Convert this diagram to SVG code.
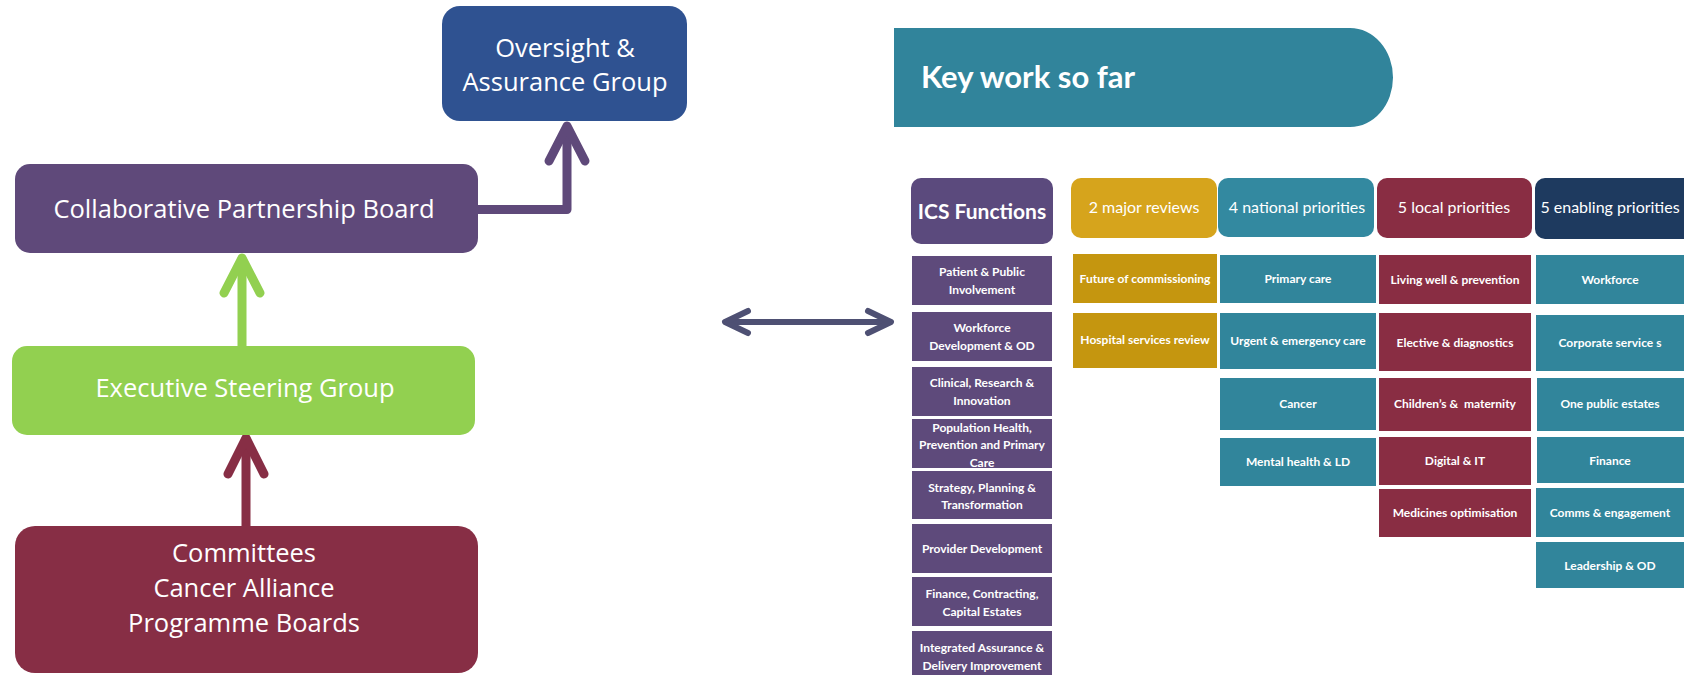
<svg xmlns="http://www.w3.org/2000/svg" width="1684" height="675" viewBox="0 0 1684 675">
<defs>
<style>
.lt{font-family:'Open Sans','Lato',sans-serif;font-size:25.5px;fill:#ffffff;text-anchor:middle}
.hd{font-family:'Lato','Open Sans',sans-serif;font-size:16px;fill:#ffffff;text-anchor:middle}
.it{font-family:'Lato','Open Sans',sans-serif;font-size:12px;font-weight:bold;fill:#ffffff;text-anchor:middle}
.pur{fill:#5e4a7b}
.gold{fill:#c5960f}
.teal{fill:#31859b}
.mar{fill:#892d43}
.arr{fill:none;stroke-width:9;stroke-linecap:round;stroke-linejoin:round}
</style>
</defs>
<rect width="1684" height="675" fill="#ffffff"/>

<g id="connectors">
  <path class="arr" stroke="#5f497a" d="M478,209.5 H567 V128"/>
  <path class="arr" stroke="#5f497a" d="M549,161 L567,126 L585,161"/>
  <path class="arr" stroke="#92d050" d="M242,346 V259"/>
  <path class="arr" stroke="#92d050" d="M224,293 L242,258 L260,293"/>
  <path class="arr" stroke="#872e45" d="M246,526 V439"/>
  <path class="arr" stroke="#872e45" d="M228,474 L246,438 L264,474"/>
  <g stroke="#4e5073" stroke-width="6" stroke-linecap="round" stroke-linejoin="round" fill="none">
    <path d="M726,322 H890"/>
    <path d="M748,311 L725,322 L748,333"/>
    <path d="M868,311 L891,322 L868,333"/>
  </g>
</g>

<g id="oversight">
  <rect x="442" y="6" width="245" height="115" rx="18" fill="#2f5291"/>
  <text class="lt" x="565" y="57">Oversight &amp;</text>
  <text class="lt" x="565" y="91">Assurance Group</text>
</g>
<g id="cpb">
  <rect x="15" y="164" width="463" height="89" rx="15" fill="#5f497a"/>
  <text class="lt" x="244" y="218">Collaborative Partnership Board</text>
</g>
<g id="esg">
  <rect x="12" y="346" width="463" height="89" rx="15" fill="#92d050"/>
  <text class="lt" x="245" y="397">Executive Steering Group</text>
</g>
<g id="committees">
  <rect x="15" y="526" width="463" height="147" rx="20" fill="#872e45"/>
  <text class="lt" x="244" y="562">Committees</text>
  <text class="lt" x="244" y="597">Cancer Alliance</text>
  <text class="lt" x="244" y="632">Programme Boards</text>
</g>

<g id="key-work-header">
  <path d="M894,28 H1350 A43,49.5 0 0 1 1350,127 H894 Z" fill="#31849b"/>
  <text x="921" y="88" font-family="'Lato','Open Sans',sans-serif" font-size="31" font-weight="bold" fill="#ffffff">Key work so far</text>
</g>

<g id="ics-functions">
  <rect x="911" y="178" width="142" height="66" rx="10" fill="#5b4a7d"/>
  <text class="hd" x="982" y="219" style="font-size:21px;font-weight:bold">ICS Functions</text>
</g>
<g id="ics-items">
  <rect class="pur" x="912" y="256" width="140" height="49"/>
  <text class="it" x="982" y="276">Patient &amp; Public</text>
  <text class="it" x="982" y="294">Involvement</text>
  <rect class="pur" x="912" y="312" width="140" height="49"/>
  <text class="it" x="982" y="332">Workforce</text>
  <text class="it" x="982" y="350">Development &amp; OD</text>
  <rect class="pur" x="912" y="367" width="140" height="49"/>
  <text class="it" x="982" y="387">Clinical, Research &amp;</text>
  <text class="it" x="982" y="405">Innovation</text>
  <rect class="pur" x="912" y="419" width="140" height="49"/>
  <text class="it" x="982" y="432">Population Health,</text>
  <text class="it" x="982" y="449">Prevention and Primary</text>
  <text class="it" x="982" y="467">Care</text>
  <rect class="pur" x="912" y="471" width="140" height="48"/>
  <text class="it" x="982" y="492">Strategy, Planning &amp;</text>
  <text class="it" x="982" y="509">Transformation</text>
  <rect class="pur" x="912" y="524" width="140" height="49"/>
  <text class="it" x="982" y="553">Provider Development</text>
  <rect class="pur" x="912" y="577" width="140" height="49"/>
  <text class="it" x="982" y="598">Finance, Contracting,</text>
  <text class="it" x="982" y="616">Capital Estates</text>
  <rect class="pur" x="912" y="631" width="140" height="50"/>
  <text class="it" x="982" y="652">Integrated Assurance &amp;</text>
  <text class="it" x="982" y="670">Delivery Improvement</text>
</g>

<g id="major-reviews">
  <rect x="1071" y="178" width="146" height="60" rx="10" fill="#d6a41c"/>
  <text class="hd" x="1144" y="213">2 major reviews</text>
  <rect class="gold" x="1073" y="254" width="144" height="49"/>
  <text class="it" x="1145" y="283">Future of commissioning</text>
  <rect class="gold" x="1073" y="313" width="144" height="55"/>
  <text class="it" x="1145" y="344">Hospital services review</text>
</g>

<g id="national-priorities">
  <rect x="1218" y="178" width="156" height="59" rx="10" fill="#3389a0"/>
  <text class="hd" x="1297" y="213">4 national priorities</text>
  <rect class="teal" x="1220" y="255" width="156" height="48"/>
  <text class="it" x="1298" y="283">Primary care</text>
  <rect class="teal" x="1220" y="313" width="156" height="56"/>
  <text class="it" x="1298" y="345">Urgent &amp; emergency care</text>
  <rect class="teal" x="1220" y="378" width="156" height="52"/>
  <text class="it" x="1298" y="408">Cancer</text>
  <rect class="teal" x="1220" y="438" width="156" height="48"/>
  <text class="it" x="1298" y="466">Mental health &amp; LD</text>
</g>

<g id="local-priorities">
  <rect x="1377" y="178" width="155" height="60" rx="10" fill="#892d43"/>
  <text class="hd" x="1454" y="213">5 local priorities</text>
  <rect class="mar" x="1379" y="255" width="152" height="49"/>
  <text class="it" x="1455" y="284">Living well &amp; prevention</text>
  <rect class="mar" x="1379" y="313" width="152" height="58"/>
  <text class="it" x="1455" y="347">Elective &amp; diagnostics</text>
  <rect class="mar" x="1379" y="378" width="152" height="53"/>
  <text class="it" x="1455" y="408">Children’s &amp;&#160; maternity</text>
  <rect class="mar" x="1379" y="437" width="152" height="48"/>
  <text class="it" x="1455" y="465">Digital &amp; IT</text>
  <rect class="mar" x="1379" y="489" width="152" height="48"/>
  <text class="it" x="1455" y="517">Medicines optimisation</text>
</g>

<g id="enabling-priorities">
  <rect x="1535" y="178" width="165" height="61" rx="10" fill="#1e3a5f"/>
  <text class="hd" x="1610" y="213">5 enabling priorities</text>
  <rect class="teal" x="1536" y="255" width="160" height="49"/>
  <text class="it" x="1610" y="284">Workforce</text>
  <rect class="teal" x="1536" y="315" width="160" height="56"/>
  <text class="it" x="1610" y="347">Corporate service s</text>
  <rect class="teal" x="1537" y="378" width="160" height="53"/>
  <text class="it" x="1610" y="408">One public estates</text>
  <rect class="teal" x="1537" y="437" width="160" height="46"/>
  <text class="it" x="1610" y="465">Finance</text>
  <rect class="teal" x="1536" y="488" width="160" height="49"/>
  <text class="it" x="1610" y="517">Comms &amp; engagement</text>
  <rect class="teal" x="1536" y="542" width="160" height="46"/>
  <text class="it" x="1610" y="570">Leadership &amp; OD</text>
</g>
</svg>
